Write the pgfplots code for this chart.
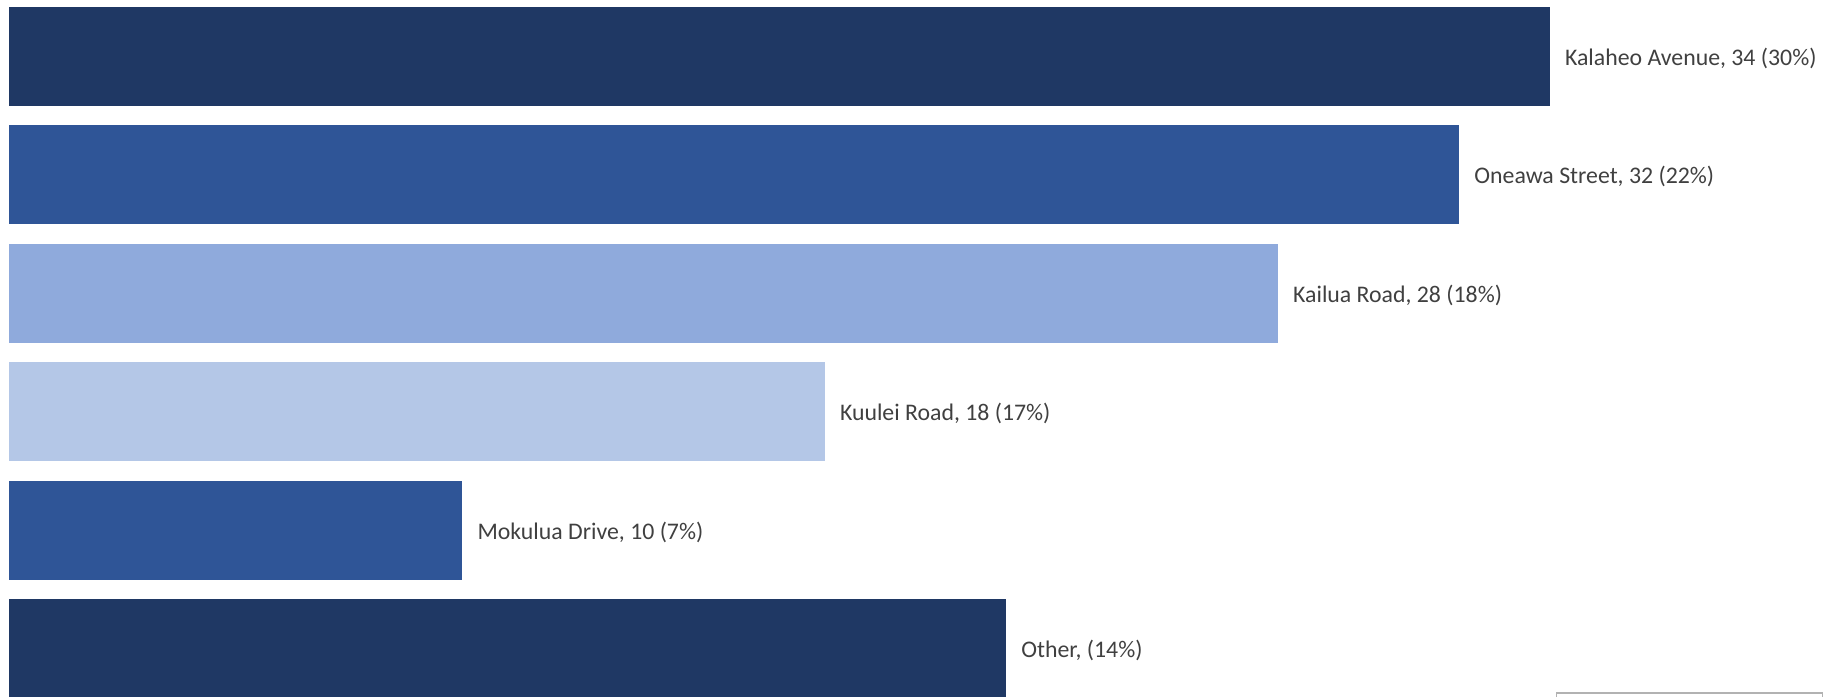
\documentclass[border=0pt]{standalone}
\usepackage{pgfplots}
\pgfplotsset{compat=1.18}
\usepackage{fontspec}
\setmainfont{Carlito}
\definecolor{c1}{HTML}{1F3864}
\definecolor{c2}{HTML}{2F5597}
\definecolor{c3}{HTML}{8FAADC}
\definecolor{c4}{HTML}{B4C7E7}
\definecolor{lbl}{HTML}{404040}
\begin{document}
\begin{tikzpicture}
\begin{axis}[
  scale only axis,
  width=915.5pt, height=348pt,
  hide axis,
  xbar, bar width=0.836,
  bar shift=0pt,
  y dir=reverse,
  xmin=-0.199, xmax=40.21,
  ymin=-0.477, ymax=5.401,
  enlargelimits=false,
  nodes near coords,
  point meta=explicit symbolic,
  every node near coord/.append style={anchor=west, inner sep=0pt, xshift=7.5pt, yshift=-1pt, font=\fontsize{11.9}{14}\selectfont, text=lbl},
  clip=true,
]
\addplot[fill=c1, draw=none] coordinates {(34,0) [Kalaheo Avenue, 34 (30\%)]};
\addplot[fill=c2, draw=none] coordinates {(32,1) [Oneawa Street, 32 (22\%)]};
\addplot[fill=c3, draw=none] coordinates {(28,2) [Kailua Road, 28 (18\%)]};
\addplot[fill=c4, draw=none] coordinates {(18,3) [Kuulei Road, 18 (17\%)]};
\addplot[fill=c2, draw=none] coordinates {(10,4) [Mokulua Drive, 10 (7\%)]};
\addplot[fill=c1, draw=none] coordinates {(22,5) [Other, (14\%)]};
\draw[gray!60, line width=0.6pt] (axis cs:34.16,5.6) rectangle (axis cs:40.03,5.376);
\end{axis}
\pgfresetboundingbox
\path (0,0) rectangle (915.5pt,348pt);
\end{tikzpicture}
\end{document}
